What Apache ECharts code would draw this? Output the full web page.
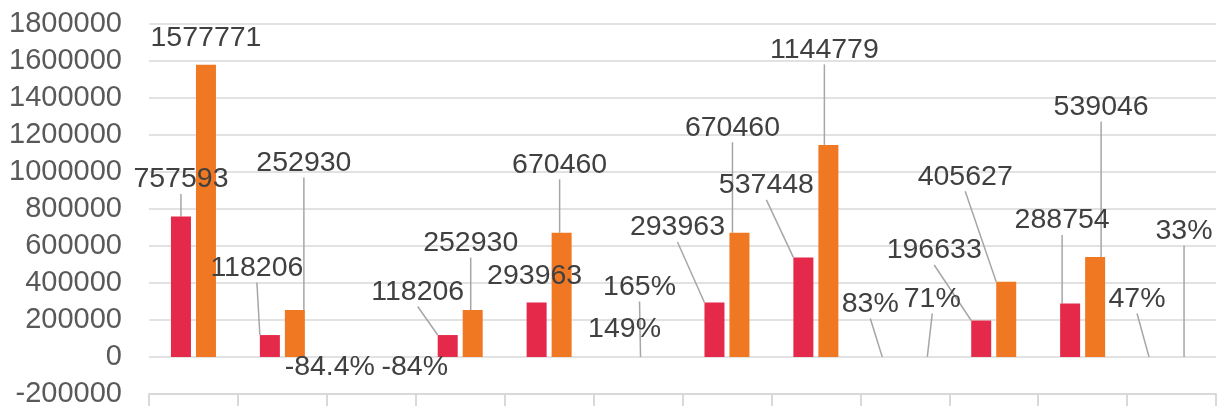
<!DOCTYPE html>
<html>
<head>
<meta charset="utf-8">
<script src="https://cdn.jsdelivr.net/npm/echarts@6/dist/echarts.min.js"></script>
<style>
  html, body { margin: 0; padding: 0; background: #fff; }
  #chart { width: 1217px; height: 406px; }
</style>
</head>
<body>
<div id="chart"></div>
<script>
  // category names (x labels are cut off in the source picture)
  var categories = ['1', '2', '3', '4', '5', '6', '7', '8', '9', '10', '11', '12'];
  // small values are ratios, shown as percentages
  var redValues = [757593, 118206, -0.844, 118206, 293963, 1.49, 293963, 537448, 0.83, 196633, 288754, 0.47];
  var orangeValues = [1577771, 252930, -0.84, 252930, 670460, 1.65, 670460, 1144779, 0.71, 405627, 539046, 0.33];
  var yTicks = { min: -200000, max: 1800000, step: 200000 };

  // where each label was dragged to, relative to its bar: [dx, lift above bar top]
  var redLabelMove = [[0, 37], [-13, 67], [-29, -10], [-30, 43], [-2, 26], [-1, 28], [-37, 75], [-37, 72], [-22, 53], [-47, 70], [-8, 83], [-22, 58]];
  var orangeLabelMove = [[0, 27], [9, 147], [31, -10], [-2, 67], [-2, 68], [-11, 70], [-7, 105], [-4, 95], [15, 58], [-41, 105], [6, 150], [0, 126]];
  var redLeader = [1, 1, 0, 1, 0, 0, 1, 1, 1, 1, 1, 1];
  var orangeLeader = [0, 1, 0, 1, 1, 1, 1, 1, 1, 1, 1, 1];

  var moves = [redLabelMove, orangeLabelMove];
  var font = "'Liberation Sans', Arial, sans-serif";

  function fmt(p) {
    var v = p.value;
    if (Math.abs(v) < 100) {
      return parseFloat((v * 100).toFixed(1)) + '%';
    }
    return String(v);
  }

  function items(values, leader) {
    return values.map(function (v, i) {
      return { value: v, labelLine: { show: !!leader[i] } };
    });
  }

  function moveLabel(params) {
    var m = moves[params.seriesIndex][params.dataIndex];
    var r = params.rect;
    var top = Math.min(r.y, r.y + r.height);
    return {
      x: r.x + r.width / 2 + m[0],
      y: top - m[1],
      align: 'center',
      verticalAlign: 'middle'
    };
  }

  var barLabel = {
    show: true,
    position: 'top',
    formatter: fmt,
    fontFamily: font,
    fontSize: 28.5,
    color: '#404040'
  };
  var leaderLine = {
    show: true,
    lineStyle: { color: '#a6a6a6', width: 1.5 }
  };

  var chart = echarts.init(document.getElementById('chart'));
  chart.setOption({
    animation: false,
    textStyle: { fontFamily: font },
    grid: { left: 149, right: 1, top: 23.5, bottom: 12, containLabel: false, outerBoundsMode: 'none' },
    xAxis: {
      type: 'category',
      data: categories,
      axisLine: { onZero: false, lineStyle: { color: '#d9d9d9', width: 2 } },
      axisTick: { show: true, length: 16, lineStyle: { color: '#d9d9d9', width: 2 } },
      axisLabel: { show: false }
    },
    yAxis: {
      type: 'value',
      min: yTicks.min,
      max: yTicks.max,
      interval: yTicks.step,
      axisLine: { show: false },
      axisTick: { show: false },
      axisLabel: {
        margin: 27, fontSize: 29, color: '#595959', fontFamily: font,
        formatter: function (v) { return String(v); }
      },
      splitLine: { lineStyle: { color: '#d9d9d9', width: 1.5 } }
    },
    series: [
      {
        type: 'bar',
        data: items(redValues, redLeader),
        barWidth: 20,
        barGap: '25%',
        itemStyle: { color: '#e5294b' },
        label: barLabel,
        labelLine: leaderLine,
        labelLayout: moveLabel
      },
      {
        type: 'bar',
        data: items(orangeValues, orangeLeader),
        barWidth: 20,
        itemStyle: { color: '#f07822' },
        label: barLabel,
        labelLine: leaderLine,
        labelLayout: moveLabel
      }
    ]
  });
</script>
</body>
</html>
